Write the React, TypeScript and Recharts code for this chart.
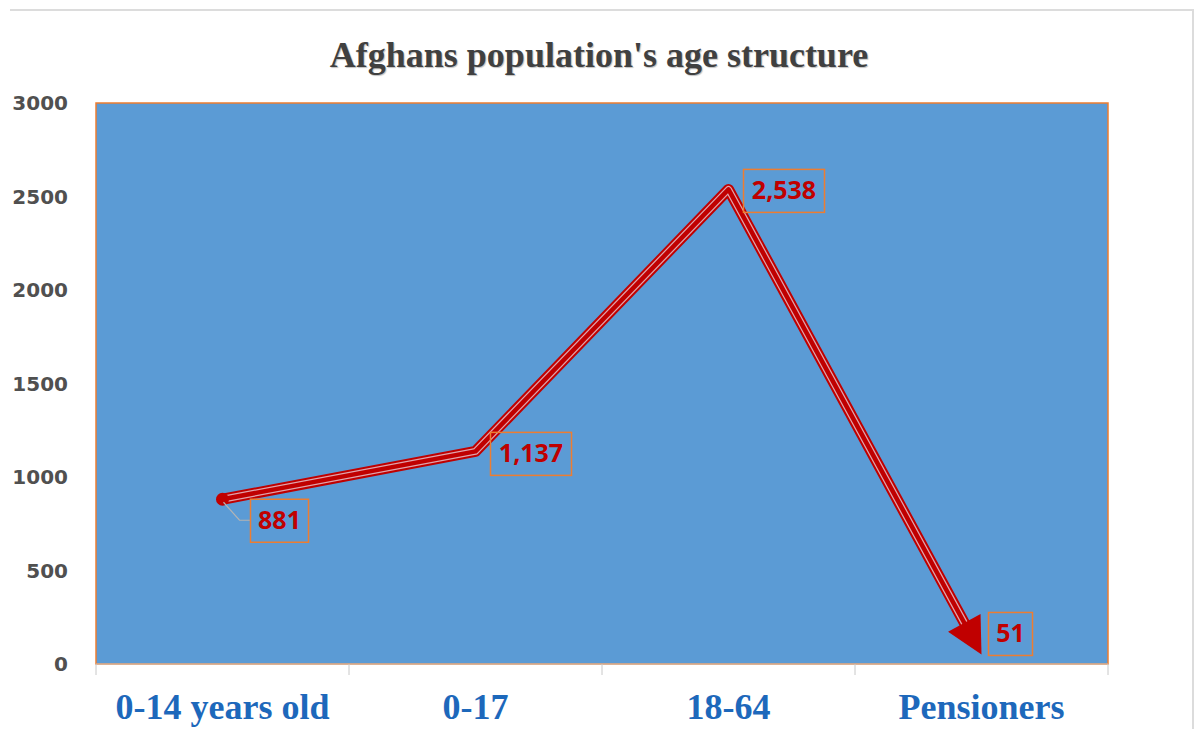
import { LineChart, Line, XAxis, YAxis, ReferenceArea, LabelList } from "recharts";

const categories = ["0-14 years old", "0-17", "18-64", "Pensioners"];
const population = [881, 1137, 2538, 51];
const valueLabels = ["881", "1,137", "2,538", "51"];
const yTicks = [0, 500, 1000, 1500, 2000, 2500, 3000];
// the helper frame axis spans the plot with an index domain of [0, 3];
// category edges sit at every quarter of it
const frameDomain = [0, 3];
const boundaryTicks = [0, 0.75, 1.5, 2.25, 3];

// label box placement relative to its point (px)
const labelBoxes = [
  { dx: 28, dy: 0, w: 58 },
  { dx: 15, dy: -19, w: 81 },
  { dx: 15, dy: -20, w: 81 },
  { dx: 7, dy: -42, w: 44 },
];

const data = categories.map((name, i) => ({ name, value: population[i] }));

const RED = "#c00000";
const PLOT_BLUE = "#5b9bd5";
const ORANGE = "#ed7d31";

function ValueBox(props: any) {
  const { x, y, value } = props;
  const i = population.indexOf(Number(value));
  if (i < 0 || x == null || y == null) return null;
  const b = labelBoxes[i];
  const bx = x + b.dx;
  const by = y + b.dy;
  return (
    <g>
      {i === 0 && (
        <polyline
          points={`${x + 1},${y + 3} ${x + 17},${y + 21} ${bx},${y + 21}`}
          fill="none"
          stroke="#b4b4b4"
          strokeWidth={1.2}
        />
      )}
      <rect x={bx} y={by} width={b.w} height={43} fill="none" stroke={ORANGE} strokeWidth={1.5} />
      <text
        x={bx + b.w / 2}
        y={by + 30}
        textAnchor="middle"
        fill={RED}
        fontFamily="'Open Sans', sans-serif"
        fontWeight="bold"
        fontSize={25}
      >
        {valueLabels[i]}
      </text>
    </g>
  );
}

function StartDot(props: any) {
  const { cx, cy, index } = props;
  if (index !== 0) return <g key={`d-${index}`} />;
  return <circle key={`d-${index}`} cx={cx} cy={cy} r={6.5} fill={RED} />;
}

function NoTick() {
  return <g />;
}

export default function App() {
  return (
    <div
      style={{
        position: "absolute",
        left: 0,
        top: 0,
        width: 1198,
        height: 729,
        overflow: "hidden",
        background: "#fff",
      }}
    >
      <div
        style={{
          position: "absolute",
          left: 10,
          top: 9,
          width: 1182,
          height: 760,
          borderTop: "2px solid #dcdcdc",
          borderRight: "2px solid #dcdcdc",
        }}
      />
      <svg width={0} height={0} style={{ position: "absolute" }}>
        <defs>
          <marker
            id="arrowHead"
            markerUnits="userSpaceOnUse"
            markerWidth={60}
            markerHeight={60}
            refX={36}
            refY={18.5}
            orient="auto"
            overflow="visible"
          >
            <rect x={18} y={10} width={19} height={17} fill={PLOT_BLUE} />
            <path d="M0,0 L36,18.5 L0,37 Z" fill={RED} />
          </marker>
        </defs>
      </svg>
      <div
        style={{
          position: "absolute",
          left: 0,
          top: 37,
          width: 1198,
          textAlign: "center",
          fontFamily: "'Liberation Serif', serif",
          fontWeight: "bold",
          fontSize: 36,
          lineHeight: "36px",
          color: "#404040",
          textShadow: "1px 1px 1px rgba(0,0,0,0.25)",
        }}
      >
        Afghans population's age structure
      </div>
      <LineChart
        width={1198}
        height={729}
        data={data}
        margin={{ top: 103, right: 90, left: 0, bottom: 0 }}
        style={{ position: "absolute", left: 0, top: 0 }}
      >
        <XAxis
          xAxisId="bounds"
          type="number"
          domain={frameDomain}
          ticks={boundaryTicks}
          tick={NoTick}
          tickSize={11}
          tickLine={{ stroke: "#c8c8c8" }}
          axisLine={{ stroke: "#c8c8c8" }}
          height={12}
          interval={0}
          allowDataOverflow
        />
        <XAxis
          xAxisId="cat"
          dataKey="name"
          padding={{ left: 126.5, right: 126.5 }}
          axisLine={false}
          tickLine={false}
          tickSize={0}
          tickMargin={17}
          height={53}
          interval={0}
          tick={{
            fill: "#1d68bb",
            fontSize: 36,
            fontWeight: "bold",
            fontFamily: "'Liberation Serif', serif",
          }}
        />
        <YAxis
          domain={[0, 3000]}
          ticks={yTicks}
          width={96}
          axisLine={false}
          tickLine={false}
          tickSize={0}
          tickMargin={28}
          interval={0}
          tick={{
            fill: "#505050",
            fontSize: 20,
            fontWeight: "bold",
            fontFamily: "'DejaVu Sans', sans-serif",
          }}
        />
        <ReferenceArea
          xAxisId="bounds"
          x1={frameDomain[0]}
          x2={frameDomain[1]}
          y1={0}
          y2={3000}
          fill={PLOT_BLUE}
          fillOpacity={1}
          stroke={ORANGE}
          strokeWidth={1.5}
        />
        <Line
          xAxisId="cat"
          dataKey="value"
          stroke={RED}
          strokeWidth={11}
          strokeLinejoin="round"
          dot={StartDot}
          activeDot={false}
          isAnimationActive={false}
        />
        <Line
          xAxisId="cat"
          dataKey="value"
          stroke="#e0a3ac"
          strokeWidth={7}
          strokeLinejoin="round"
          dot={false}
          activeDot={false}
          isAnimationActive={false}
        />
        <Line
          xAxisId="cat"
          dataKey="value"
          stroke={RED}
          strokeWidth={4.5}
          strokeLinejoin="round"
          dot={false}
          activeDot={false}
          markerEnd="url(#arrowHead)"
          isAnimationActive={false}
        >
          <LabelList dataKey="value" content={ValueBox} />
        </Line>
      </LineChart>
    </div>
  );
}
